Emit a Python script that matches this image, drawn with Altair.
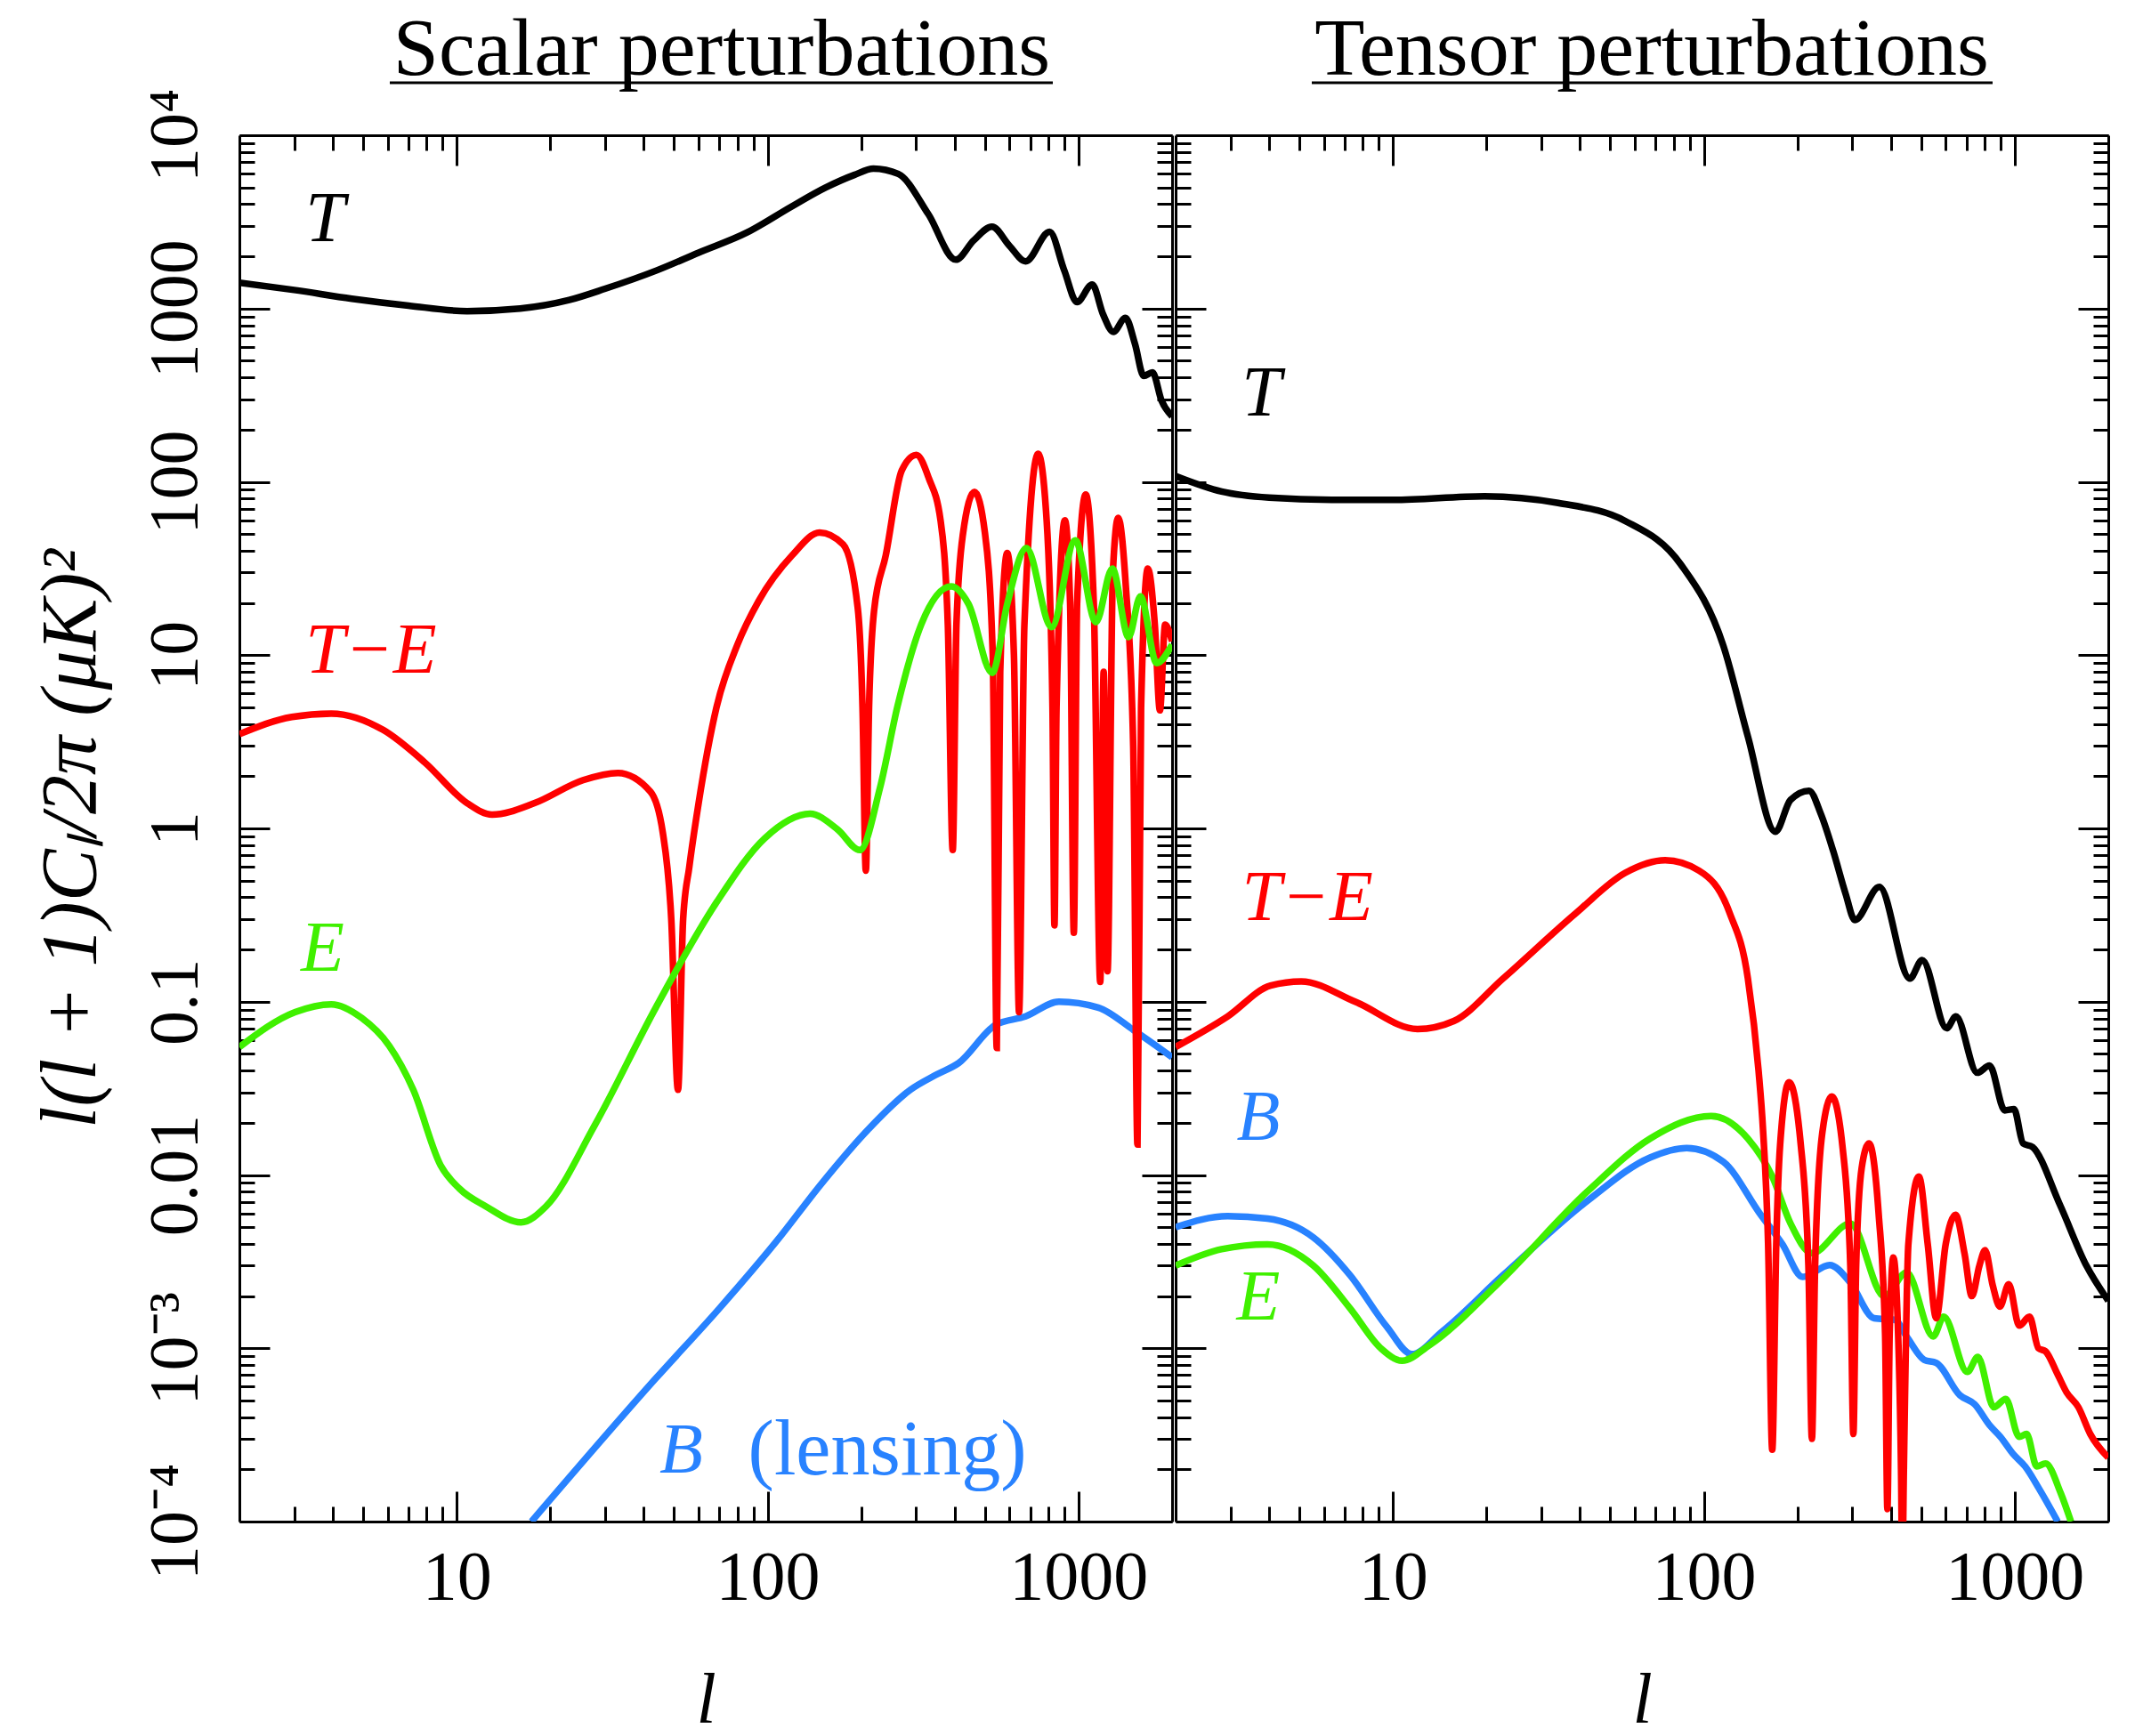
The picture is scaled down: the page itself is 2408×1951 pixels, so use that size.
import altair as alt
import pandas as pd

# ---------------- data: (l, l(l+1)C_l/2pi in muK^2) ----------------
scalar_T = [(2, 1410), (3, 1280), (4.6, 1140), (7, 1040), (10.8, 966), (16, 1000), (23, 1120), (30, 1300),
            (44, 1660), (60, 2100), (86, 2750), (120, 3900), (154, 5000), (190, 5900), (219, 6420), (263, 5990),
            (329, 3500), (403, 1914), (460, 2470), (527, 2970), (600, 2300), (676, 1872), (807, 2772), (900, 1660),
            (989, 1089), (1107, 1375), (1200, 925), (1295, 733), (1416, 883), (1520, 624), (1621, 408), (1730, 428),
            (1850, 294), (2000, 239)]
scalar_TE = [(2, 3.5), (2.95, 4.4), (3.95, 4.6), (5.8, 3.7), (7.9, 2.4), (10.8, 1.4), (13, 1.2), (17.8, 1.4),
             (25.5, 1.9), (33, 2.09), (42, 1.63), (46, 0.95), (49, 0.3), (51.5, 0.031), (53.5, 0.3), (56, 0.6),
             (60, 1.4), (68.5, 5.0), (80, 11.5), (93.7, 20.6), (120, 37.7), (147, 51), (175, 43.5), (195, 18.7),
             (202, 5), (207, 0.57), (212, 5), (220, 18), (240, 37.7), (270, 116), (301, 143), (330, 105), (360, 60),
             (380, 15), (394, 0.75), (405, 15), (425, 50), (463, 87.6), (500, 51), (530, 10), (546, 0.054), (560, 8),
             (590, 38.8), (620, 10), (644, 0.087), (670, 15), (742, 145), (790, 60), (825, 5), (837, 0.276),
             (850, 5), (904, 60), (940, 20), (966, 0.25), (990, 20), (1055, 84.5), (1120, 20), (1175, 0.13),
             (1205, 8), (1240, 0.15), (1290, 30), (1342, 62), (1420, 25), (1500, 3), (1548, 0.015), (1590, 5),
             (1671, 31.6), (1760, 15), (1828, 4.8), (1900, 15), (2000, 12)]
scalar_E = [(2, 0.0547), (3.02, 0.087), (3.95, 0.0966), (4.95, 0.0805), (6.06, 0.0558), (7.25, 0.031),
            (8.87, 0.0114), (10.2, 0.00835), (12.4, 0.0066), (16.1, 0.00533), (19.4, 0.0066), (27.9, 0.0196),
            (43.7, 0.0925), (68.5, 0.374), (98, 0.879), (137, 1.215), (168, 0.986), (198, 0.75), (230, 1.72),
            (262, 5.1), (312, 15), (389, 24.9), (443, 19.7), (528, 7.9), (590, 19.7), (680, 41.5), (819, 14.5),
            (977, 45.9), (1138, 15.5), (1285, 31.6), (1449, 12.7), (1582, 21.8), (1784, 9.0), (2000, 11.5)]
scalar_B = [(17.4, 1.0e-4), (43.7, 6.7e-4), (70, 0.0017), (107, 0.00416), (150, 0.00904), (210, 0.0182),
            (288, 0.031), (350, 0.038), (412, 0.0443), (540, 0.0733), (676, 0.0823), (865, 0.1), (1157, 0.0925),
            (1514, 0.068), (2000, 0.0478)]

tensor_T = [(2, 108), (2.81, 87.9), (4, 81), (6.36, 78.7), (10, 78.7), (19.7, 82.6), (34, 75.5), (56, 59.3),
            (84.2, 33.5), (115.6, 11.3), (138.6, 3.39), (170, 0.957), (190, 1.46), (218, 1.65), (238, 1.21),
            (261, 0.736), (286, 0.418), (306, 0.296), (367, 0.459), (460, 0.136), (504, 0.174), (604, 0.0703),
            (647, 0.0822), (758, 0.0389), (830, 0.0428), (929, 0.0236), (995, 0.024), (1064, 0.0152),
            (1140, 0.0145), (1397, 0.00675), (1700, 0.003), (2000, 0.00188)]
tensor_TE = [(2, 0.0548), (2.94, 0.0822), (4.04, 0.124), (5.07, 0.131), (7.62, 0.0993), (12, 0.0695),
             (15.7, 0.0773), (22.6, 0.136), (38.9, 0.326), (56, 0.555), (75.1, 0.655), (96.4, 0.571), (121, 0.326),
             (138.6, 0.136), (150, 0.04), (155, 0.0184), (161, 0.004), (166, 2.6e-4), (171, 0.004), (176, 0.015),
             (188, 0.0343), (205, 0.015), (217, 0.003), (222.7, 3.0e-4), (228, 0.003), (240, 0.017), (258, 0.0284),
             (280, 0.014), (296, 0.003), (302.7, 3.2e-4), (309, 0.003), (322, 0.011), (340, 0.0152), (365, 0.006),
             (383, 0.0012), (389.5, 1.18e-4), (396, 0.0012), (407, 0.00334), (420, 0.0015), (431, 2e-4),
             (435, 5e-5), (440, 2e-4), (455, 0.004), (492, 0.0098), (525, 0.004), (559, 0.00149), (600, 0.004),
             (645, 0.0059), (690, 0.0035), (728, 0.002), (770, 0.003), (803, 0.00368), (850, 0.0023),
             (896, 0.00174), (957, 0.00234), (1034, 0.00135), (1116, 0.00152), (1192, 0.001), (1256, 9.6e-4),
             (1375, 7.05e-4), (1469, 5.56e-4), (1603, 4.57e-4), (1750, 3.2e-4), (2000, 2.34e-4)]
tensor_E = [(2, 0.003), (2.81, 0.00373), (3.95, 0.00398), (5.55, 0.003), (7.28, 0.0017), (9.14, 0.001),
            (10.7, 8.47e-4), (13.1, 0.00104), (21.6, 0.00233), (42.6, 0.00815), (67.1, 0.0162), (105.6, 0.0219),
            (138.6, 0.0162), (166, 0.0098), (190, 0.00526), (222.7, 0.00354), (296, 0.00525), (381, 0.00199),
            (449, 0.00274), (547, 0.00117), (591, 0.00152), (704, 7.3e-4), (761, 8.9e-4), (857, 4.57e-4),
            (936, 5.1e-4), (1034, 3.08e-4), (1092, 3.2e-4), (1178, 2.08e-4), (1256, 2.16e-4), (1406, 1.46e-4),
            (1517, 1.0e-4)]
tensor_B = [(2, 0.005), (2.94, 0.00578), (3.95, 0.0056), (5.55, 0.00436), (7.28, 0.00264), (9.56, 0.00133),
            (11.5, 9.25e-4), (14.4, 0.00125), (22.6, 0.00264), (42.6, 0.00718), (67.1, 0.0126), (88.1, 0.0143),
            (115.6, 0.0119), (151.7, 0.00596), (179, 0.00398), (208, 0.00258), (254, 0.00302), (296, 0.00239),
            (353, 0.00149), (411, 0.00146), (449, 0.00117), (512, 8.57e-4), (559, 8.25e-4), (667, 5.35e-4),
            (743, 4.75e-4), (830, 3.6e-4), (900, 3.08e-4), (989, 2.45e-4), (1080, 2.08e-4), (1205, 1.52e-4),
            (1375, 1.0e-4)]

series_names = ["T", "B", "TE", "E"]
series_colors = ["#000000", "#2882ff", "#ff0000", "#40f000"]

# curve labels: (l, value, text, colour)
scalar_labels = [(3.78, 3260, "T", "#000000"), (5.30, 10.5, "T\u2212E", "#ff0000"),
                 (3.70, 0.201, "E", "#40f000"), (52.7, 2.55e-4, "B", "#2882ff")]
scalar_plain_labels = [(242.7, 2.55e-4, "(lensing)", "#2882ff")]
tensor_labels = [(3.78, 320, "T", "#000000"), (5.31, 0.393, "T\u2212E", "#ff0000"),
                 (3.69, 0.0211, "B", "#2882ff"), (3.69, 0.00194, "E", "#40f000")]

panel_titles = ["Scalar perturbations", "Tensor perturbations"]
x_title = "l"
y_title = "l(l + 1)C\u2097/2\u03c0   (\u03bcK)\u00b2"

x_tick_values = [10, 100, 1000]
x_tick_labels = ["10", "100", "1000"]
y_tick_values = [1e-4, 1e-3, 0.01, 0.1, 1, 10, 100, 1000, 1e4]
y_tick_labels = ["10\u207b\u2074", "10\u207b\u00b3", "0.01", "0.1", "1", "10", "100", "1000", "10\u2074"]
x_minor = sorted(v for v in set(m * d for d in (1, 10, 100) for m in range(2, 10)) if 2 < v < 2000)
y_minor = [m * 10.0 ** e for e in range(-4, 4) for m in range(2, 10)]

# ---------------- helpers ----------------
FONT = "Liberation Serif"
W, H = 1048, 1558


def label_expr(values, labels):
    expr = "'" + labels[-1] + "'"
    for val, lab in reversed(list(zip(values[:-1], labels[:-1]))):
        expr = "datum.value < %r ? '%s' : (%s)" % (val * 1.5, lab, expr)
    return expr


x_expr = label_expr(x_tick_values, x_tick_labels)
y_expr = label_expr(y_tick_values, y_tick_labels)


def curves_df(groups):
    rows = []
    for name, pts in groups:
        for l, v in pts:
            rows.append({"l": l, "v": v, "series": name})
    return pd.DataFrame(rows)


def labels_df(items):
    return pd.DataFrame([{"l": a, "v": b, "text": t, "color": c} for a, b, t, c in items])


def tick_axis(orient, values, size, domain):
    offset = -H if orient in ("top", "bottom") else -W
    return alt.Axis(orient=orient, offset=offset, values=values, labels=False, ticks=True,
                    tickSize=size, tickWidth=3, tickColor="black", domain=domain,
                    domainColor="black", domainWidth=3, grid=False, title=None)


def make_panel(df, lab_items, plain_items, title, title_x, underline, show_y):
    xsc = alt.Scale(type="log", domain=[2, 2000], nice=False)
    ysc = alt.Scale(type="log", domain=[1e-4, 1e4], nice=False)
    x_main = alt.Axis(orient="bottom", values=x_tick_values, labelExpr=x_expr, ticks=False, domain=True,
                      domainColor="black", domainWidth=3, labelFont=FONT, labelFontSize=78,
                      labelColor="black", labelPadding=24, labelOverlap=False, labelFlush=False,
                      title=x_title, titleFont=FONT, titleFontSize=80, titleFontStyle="italic",
                      titleFontWeight="normal", titleColor="black", titlePadding=60, grid=False)
    if show_y:
        y_main = alt.Axis(orient="left", values=y_tick_values, labelExpr=y_expr, labelAngle=270, ticks=False,
                          domain=True, domainColor="black", domainWidth=3, labelFont=FONT, labelFontSize=78,
                          labelColor="black", labelPadding=33, labelOverlap=False, labelFlush=False,
                          title=y_title, titleFont=FONT, titleFontSize=88, titleFontStyle="italic",
                          titleFontWeight="normal", titleColor="black", titlePadding=34, titleY=790,
                          grid=False)
    else:
        y_main = alt.Axis(orient="left", values=y_tick_values, labels=False, ticks=False, domain=True,
                          domainColor="black", domainWidth=3, grid=False, title=None)

    lines = alt.Chart(df).mark_line(strokeWidth=7.5, clip=True, interpolate="monotone").encode(
        x=alt.X("l:Q", scale=xsc, axis=x_main),
        y=alt.Y("v:Q", scale=ysc, axis=y_main),
        color=alt.Color("series:N", scale=alt.Scale(domain=series_names, range=series_colors), legend=None),
    )
    anchor = pd.DataFrame({"l": [10], "v": [1]})

    def axis_layer(xa, ya):
        return alt.Chart(anchor).mark_point(opacity=0).encode(
            x=alt.X("l:Q", scale=xsc, axis=xa), y=alt.Y("v:Q", scale=ysc, axis=ya))

    one = pd.DataFrame({"text": [title]})
    layers = [
        lines,
        axis_layer(tick_axis("top", x_tick_values, 34, False), tick_axis("right", y_tick_values, 34, False)),
        axis_layer(tick_axis("top", x_minor, 17, False), tick_axis("right", y_minor, 17, False)),
        axis_layer(tick_axis("bottom", x_tick_values, 34, True), tick_axis("left", y_tick_values, 34, True)),
        axis_layer(tick_axis("bottom", x_minor, 17, False), tick_axis("left", y_minor, 17, False)),
        alt.Chart(labels_df(lab_items)).mark_text(font=FONT, fontSize=80, fontStyle="italic", align="center",
                                                 baseline="middle").encode(
            x=alt.X("l:Q", scale=xsc, axis=None), y=alt.Y("v:Q", scale=ysc, axis=None),
            text="text:N", color=alt.Color("color:N", scale=None)),
        # panel heading (underlined)
        alt.Chart(one).mark_text(font=FONT, fontSize=92, align="center", baseline="alphabetic",
                                 color="black").encode(
            x=alt.value(title_x), y=alt.value(-68), text="text:N"),
        alt.Chart(one).mark_rule(color="black", strokeWidth=3).encode(
            x=alt.value(underline[0]), x2=alt.value(underline[1]), y=alt.value(-59)),
    ]
    if plain_items:
        layers.append(
            alt.Chart(labels_df(plain_items)).mark_text(font=FONT, fontSize=88, align="center",
                                                       baseline="middle").encode(
                x=alt.X("l:Q", scale=xsc, axis=None), y=alt.Y("v:Q", scale=ysc, axis=None),
                text="text:N", color=alt.Color("color:N", scale=None)))

    return alt.layer(*layers).resolve_axis(x="independent", y="independent").properties(width=W, height=H)


scalar_df = curves_df([("T", scalar_T), ("B", scalar_B), ("TE", scalar_TE), ("E", scalar_E)])
tensor_df = curves_df([("T", tensor_T), ("B", tensor_B), ("E", tensor_E), ("TE", tensor_TE)])

left = make_panel(scalar_df, scalar_labels, scalar_plain_labels, panel_titles[0], 542, (169, 914), True)
right = make_panel(tensor_df, tensor_labels, [], panel_titles[1], 535, (153, 918), False)

chart = alt.hconcat(left, right, spacing=0).properties(
    padding={"left": 36, "top": 10, "right": 5, "bottom": 0}
).configure_view(stroke=None)

chart.save("out.html", embed_options={"renderer": "svg", "actions": False})
